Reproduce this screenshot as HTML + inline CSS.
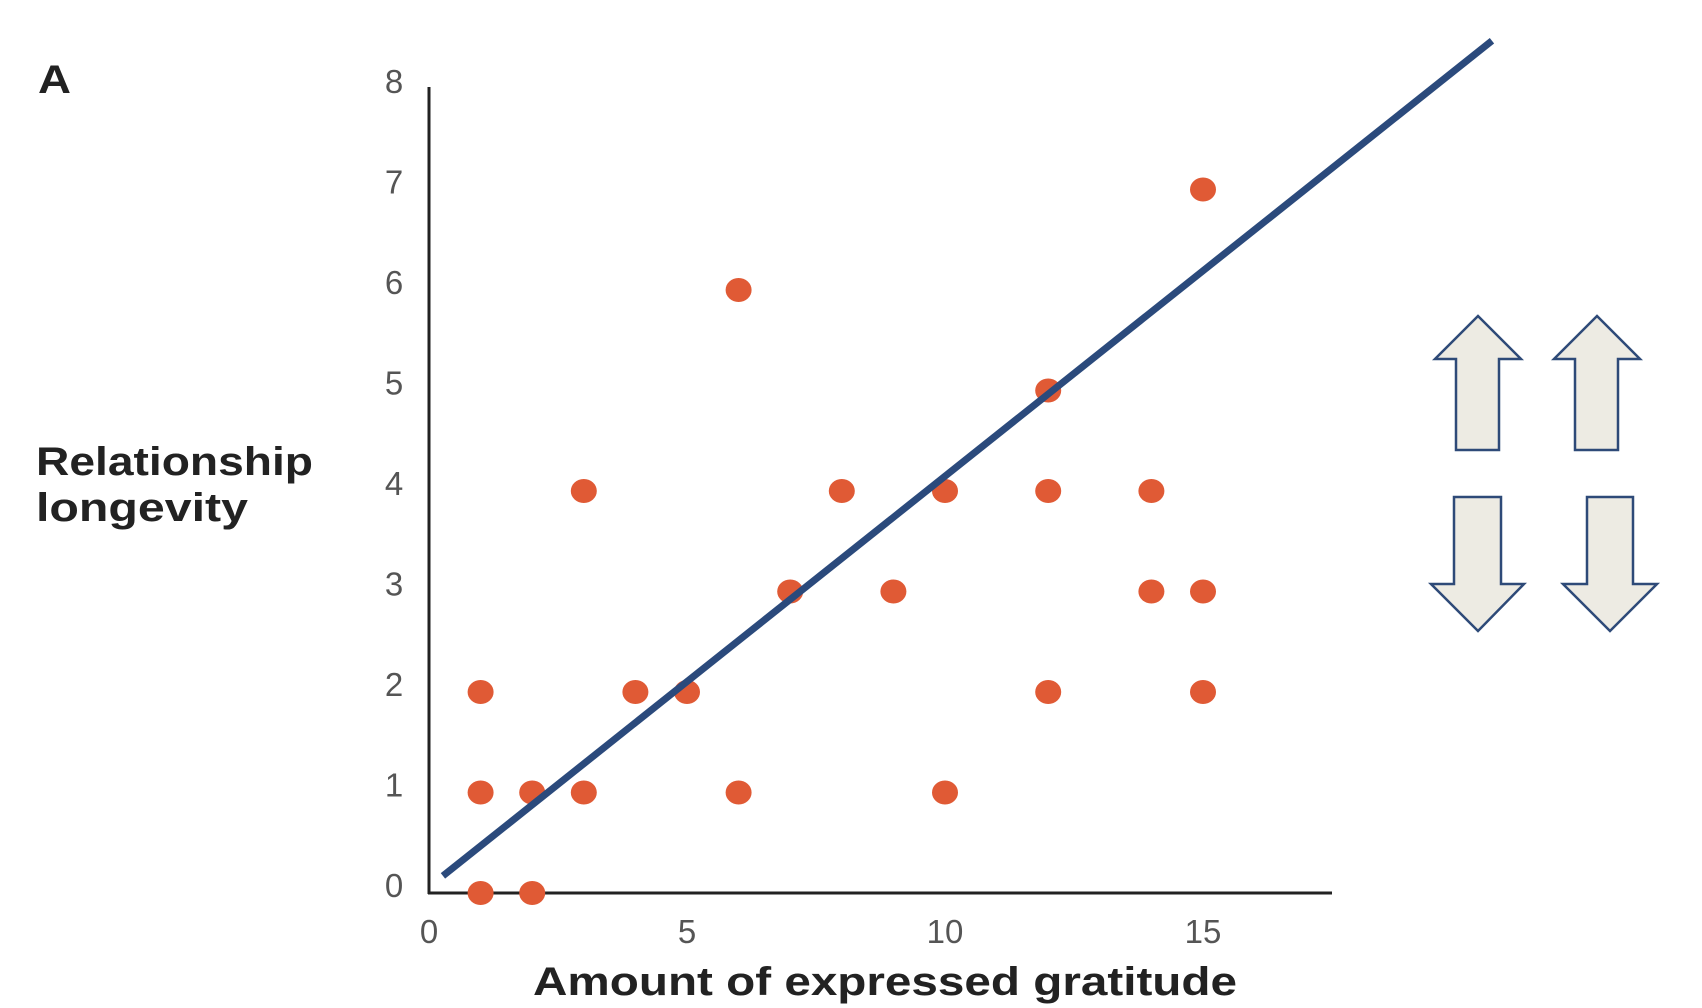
<!DOCTYPE html>
<html><head><meta charset="utf-8"><style>
html,body{margin:0;padding:0;background:#fff;}
svg{display:block;font-family:"Liberation Sans",sans-serif;}
</style></head><body>
<svg id="chart" width="1702" height="1008" viewBox="0 0 1702 1008">
<text x="38" y="93" font-size="40" font-weight="bold" fill="#222" textLength="33" lengthAdjust="spacingAndGlyphs">A</text>
<text x="36" y="475" font-size="40" font-weight="bold" fill="#222" textLength="277" lengthAdjust="spacingAndGlyphs">Relationship</text>
<text x="36" y="521" font-size="40" font-weight="bold" fill="#222" textLength="212" lengthAdjust="spacingAndGlyphs">longevity</text>
<text x="533" y="995" font-size="40" font-weight="bold" fill="#222" textLength="704" lengthAdjust="spacingAndGlyphs">Amount of expressed gratitude</text>
<g id="ticks"></g>
<line x1="429" y1="87" x2="429" y2="894" stroke="#222" stroke-width="3"/>
<line x1="428" y1="893" x2="1332" y2="893" stroke="#222" stroke-width="3"/>
<g id="dots"></g>
<g id="trend"></g>
<g fill="#edebe3" stroke="#2e4a78" stroke-width="2.5" stroke-linejoin="miter">
<polygon points="1478,316 1521,359 1499,359 1499,450 1456,450 1456,359 1435,359"/>
<polygon points="1597,316 1640,359 1618,359 1618,450 1575,450 1575,359 1554,359"/>
<polygon points="1454,497 1501,497 1501,584 1524,584 1478,631 1431,584 1454,584"/>
<polygon points="1587,497 1633,497 1633,584 1657,584 1610,631 1563,584 1587,584"/>
</g>
</svg>
<script>
const xValues = [1,2,1,2,3,6,10,1,4,5,12,15,7,9,14,15,3,8,10,12,14,12,6,15];
const yValues = [0,0,1,1,1,1,1,2,2,2,2,2,3,3,3,3,4,4,4,4,4,5,6,7];
const xTicks = [0,5,10,15];
const yTicks = [0,1,2,3,4,5,6,7,8];
const trendX = [0.27,20.6];
const trendY = [0.17,8.48];

const NS = "http://www.w3.org/2000/svg";
const X0 = 429, XU = 51.6, Y0 = 893, YU = 100.5;
function sx(v){ return X0 + v*XU; }
function sy(v){ return Y0 - v*YU; }

const ticks = document.getElementById('ticks');
xTicks.forEach(function(t){
  const el = document.createElementNS(NS,'text');
  el.setAttribute('x', sx(t)); el.setAttribute('y', 943);
  el.setAttribute('text-anchor','middle'); el.setAttribute('font-size','33');
  el.setAttribute('fill','#555');
  el.textContent = t;
  
  
  ticks.appendChild(el);
});
yTicks.forEach(function(t){
  const el = document.createElementNS(NS,'text');
  el.setAttribute('x', 394); el.setAttribute('y', sy(t) + 4);
  el.setAttribute('text-anchor','middle'); el.setAttribute('font-size','33');
  el.setAttribute('fill','#555');
  el.textContent = t;
  
  
  ticks.appendChild(el);
});

const dots = document.getElementById('dots');
xValues.forEach(function(x, i){
  const el = document.createElementNS(NS,'ellipse');
  el.setAttribute('cx', sx(x)); el.setAttribute('cy', sy(yValues[i]));
  el.setAttribute('rx', 13); el.setAttribute('ry', 12);
  el.setAttribute('fill', '#e05a35');
  
  
  dots.appendChild(el);
});

const tl = document.createElementNS(NS,'line');
tl.setAttribute('x1', sx(trendX[0])); tl.setAttribute('y1', sy(trendY[0]));
tl.setAttribute('x2', sx(trendX[1])); tl.setAttribute('y2', sy(trendY[1]));
tl.setAttribute('stroke', '#2b4a7c'); tl.setAttribute('stroke-width', 7);


document.getElementById('trend').appendChild(tl);
</script>
</body></html>
